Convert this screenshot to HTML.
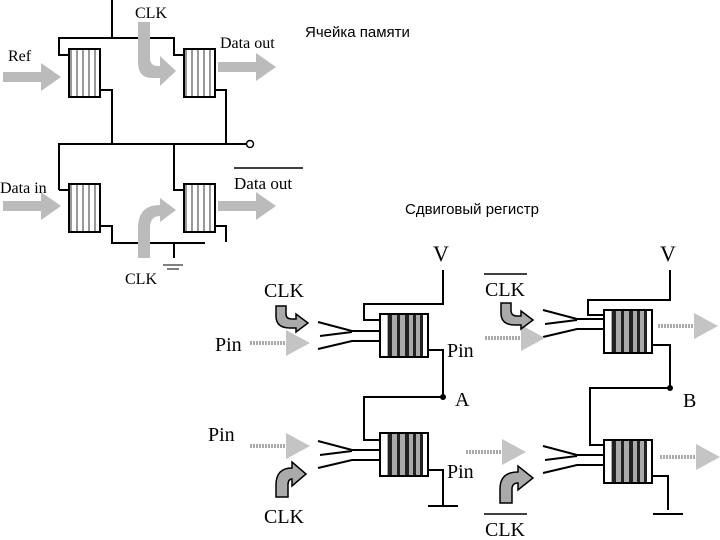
<!DOCTYPE html>
<html><head><meta charset="utf-8"><style>
html,body{margin:0;padding:0;background:#fff}
svg{display:block}
.t{font-family:"Liberation Serif",serif;fill:#000}
.s{font-family:"Liberation Sans","DejaVu Sans",sans-serif;font-size:15px;fill:#000}
</style></head><body>
<svg width="720" height="540" viewBox="0 0 720 540" xmlns="http://www.w3.org/2000/svg">
<defs>
<pattern id="st" width="6" height="3" patternUnits="userSpaceOnUse">
<rect width="6" height="3" fill="#fff"/><rect x="1" width="2" height="3" fill="#999"/>
</pattern>
<g id="box1"><rect x="0" y="0" width="31" height="48" fill="url(#st)" stroke="#000" stroke-width="2"/></g>
<g id="box2">
<rect x="0" y="0" width="48" height="43" fill="#fff" stroke="#000" stroke-width="2"/>
<rect x="7" y="1" width="35" height="41" fill="#aaa"/>
<rect x="8" y="1" width="4" height="41" fill="#222"/>
<rect x="17" y="1" width="3" height="41" fill="#222"/>
<rect x="25" y="1" width="4" height="41" fill="#222"/>
<rect x="33" y="1" width="3" height="41" fill="#222"/>
<rect x="40" y="1" width="3" height="41" fill="#222"/>
</g>
<g id="chev" fill="none" stroke="#000" stroke-width="2">
<polyline points="0,0 34,9 62,9"/>
<polyline points="2,14 34,10"/>
<polyline points="0,27 34,19 62,19"/>
</g>
<g id="garr"><rect x="0" y="-5" width="40" height="10" fill="#bbb"/><polygon points="38,-14 58,0 38,14" fill="#bbb"/></g>
<g id="darr"><line x1="0" y1="0" x2="36" y2="0" stroke="#aaa" stroke-width="4" stroke-dasharray="2,1"/><polygon points="36,-13 60,0 36,13" fill="#c4c4c4"/></g>
</defs>

<g stroke="#000" stroke-width="2" fill="none">
<polyline points="112,0 112,38"/>
<polyline points="69,55 59,55 59,38 174,38 174,55 184,55"/>
<polyline points="100,90 112,90 112,144"/>
<polyline points="215,90 226,90 226,144"/>
<polyline points="59,190 59,144 246,144"/>
<polyline points="174,144 174,190 184,190"/>
<line x1="59" y1="190" x2="69" y2="190"/>
<polyline points="100,226 112,226 112,243 205,243"/>
<polyline points="215,226 226,226 226,242"/>
<line x1="174" y1="243" x2="174" y2="258"/>
</g>
<circle cx="250" cy="144" r="3.5" fill="#fff" stroke="#000" stroke-width="1.5"/>
<g stroke="#000" stroke-width="1"><line x1="163" y1="265" x2="183" y2="265"/><line x1="167" y1="269" x2="179" y2="269"/></g>
<use href="#box1" x="69" y="49"/><use href="#box1" x="184" y="49"/>
<use href="#box1" x="69" y="184"/><use href="#box1" x="184" y="184"/>
<use href="#garr" x="3" y="77"/><use href="#garr" x="218" y="67"/>
<use href="#garr" x="3" y="206"/><use href="#garr" x="218" y="206"/>
<path d="M138,22 L150,22 L150,58 Q150,66 158,66 L160,66 L160,56 L176,71 L160,86 L160,78 L152,78 Q138,78 138,62 Z" fill="#bbb"/>
<path d="M138,258 L138,228 Q138,205 160,205 L160,198 L176,210 L160,222 L160,216 Q150,216 150,228 L150,258 Z" fill="#bbb"/>
<text class="t" x="135" y="18" font-size="16">CLK</text>
<text class="t" x="8" y="61" font-size="16">Ref</text>
<text class="t" x="220" y="48" font-size="16">Data out</text>
<text class="t" x="0" y="193" font-size="16">Data in</text>
<text class="t" x="234" y="189" font-size="17">Data out</text>
<line x1="234" y1="168" x2="303" y2="168" stroke="#000" stroke-width="1.5"/>
<text class="t" x="125" y="284" font-size="16">CLK</text>
<text class="s" x="305" y="37">Ячейка памяти</text>
<text class="s" x="405" y="214">Сдвиговый регистр</text>

<g stroke="#000" stroke-width="2" fill="none">
<polyline points="443,270 443,304 364,304 364,320 380,320"/>
<polyline points="428,350 443,350 443,397 364,397 364,440 380,440"/>
<polyline points="428,470 443,470 443,505"/>
<polyline points="670,270 670,300 588,300 588,315 604,315"/>
<polyline points="652,345 670,345 670,388 590,388 590,445 604,445"/>
<polyline points="652,476 668,476 668,510"/>
<line x1="428" y1="506" x2="458" y2="506"/>
<line x1="653" y1="514" x2="683" y2="514"/>
</g>
<circle cx="443" cy="397" r="3" fill="#000"/>
<circle cx="670" cy="388" r="3" fill="#000"/>
<use href="#box2" x="380" y="314"/><use href="#box2" x="380" y="433"/>
<use href="#box2" x="604" y="310"/><use href="#box2" x="604" y="440"/>
<use href="#chev" x="318" y="322"/><use href="#chev" x="318" y="441"/>
<use href="#chev" x="543" y="310"/><use href="#chev" x="543" y="446"/>
<use href="#darr" x="250" y="343"/><use href="#darr" x="250" y="446"/>
<use href="#darr" x="485" y="338"/><use href="#darr" x="466" y="452"/>
<use href="#darr" x="658" y="326"/><use href="#darr" x="660" y="457"/>
<g fill="#aaa" stroke="#000" stroke-width="1.5">
<path d="M276,306 L286,306 L286,314 Q286,319 292,319 L296,319 L296,314 L308,323 L296,332 L296,328 L290,328 Q276,328 276,316 Z"/>
<path d="M276,497 L276,485 Q276,468 292,468 L292,462 L306,474 L292,486 L292,479 Q288,479 288,485 L288,497 Z"/>
<path d="M501,303 L511,303 L511,310 Q511,316 517,316 L521,316 L521,311 L533,320 L521,329 L521,325 L515,325 Q501,325 501,313 Z"/>
<path d="M500,503 L500,489 Q500,472 518,472 L518,466 L533,478 L518,490 L518,483 Q512,483 512,489 L512,503 Z"/>
</g>
<text class="t" x="433" y="261" font-size="22">V</text>
<text class="t" x="660" y="261" font-size="22">V</text>
<text class="t" x="264" y="297" font-size="20">CLK</text>
<text class="t" x="264" y="523" font-size="20">CLK</text>
<text class="t" x="485" y="296" font-size="20">CLK</text>
<line x1="484" y1="274" x2="527" y2="274" stroke="#000" stroke-width="1.5"/>
<text class="t" x="485" y="536" font-size="20">CLK</text>
<line x1="484" y1="514" x2="527" y2="514" stroke="#000" stroke-width="1.5"/>
<text class="t" x="215" y="351" font-size="20">Pin</text>
<text class="t" x="447" y="357" font-size="20">Pin</text>
<text class="t" x="208" y="441" font-size="20">Pin</text>
<text class="t" x="447" y="478" font-size="20">Pin</text>
<text class="t" x="455" y="406" font-size="20">A</text>
<text class="t" x="683" y="407" font-size="20">B</text>
</svg>
</body></html>
